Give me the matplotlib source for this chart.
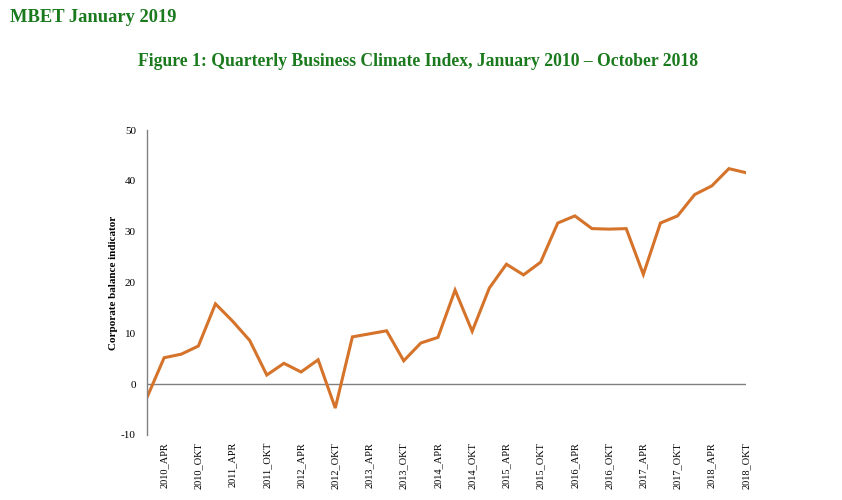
import matplotlib
matplotlib.use("Agg")
import matplotlib.pyplot as plt

# Quarterly business climate index, 2010 JAN .. 2018 OKT
years = list(range(2010, 2019))
quarters = ["JAN", "APR", "JUL", "OKT"]
periods = [f"{y}_{q}" for y in years for q in quarters]

values = [
    -2.6, 5.2, 5.9, 7.5,      # 2010
    15.8, 12.4, 8.6, 1.8,     # 2011
    4.1, 2.4, 4.8, -4.7,      # 2012
    9.3, 9.9, 10.5, 4.6,      # 2013
    8.1, 9.2, 18.5, 10.4,     # 2014
    18.9, 23.6, 21.5, 24.0,   # 2015
    31.7, 33.1, 30.6, 30.5,   # 2016
    30.6, 21.6, 31.7, 33.1,   # 2017
    37.3, 39.0, 42.4, 41.6,   # 2018
]

# only APR and OKT quarters get a label
tick_labels = [p for p in periods if p.endswith(("APR", "OKT"))]

GREEN = "#1b7a1e"
ORANGE = "#d5732a"
SERIF = ["Liberation Serif", "DejaVu Serif"]

plt.rcParams["font.family"] = SERIF
plt.rcParams["axes.unicode_minus"] = False

fig = plt.figure(figsize=(8.42, 5.0), dpi=100)
ax = fig.add_axes([0.1746, 0.13, 0.7114, 0.61])

x = list(range(len(periods)))
ax.plot(x, values, color=ORANGE, linewidth=2.2, solid_joinstyle="miter")
ax.axhline(0, color="#808080", linewidth=1.0, zorder=0)

ax.set_xlim(0, len(periods) - 1)
ax.set_ylim(-10, 50)
ax.set_yticks(range(-10, 51, 10))
ax.tick_params(axis="y", length=0, labelsize=8, pad=8)

tick_pos = [i for i, p in enumerate(periods) if p in tick_labels]
ax.set_xticks(tick_pos)
ax.set_xticklabels(tick_labels, rotation=90, fontsize=7.5, va="top")
ax.tick_params(axis="x", length=0, pad=5)

for side in ("top", "right", "bottom"):
    ax.spines[side].set_visible(False)
ax.spines["left"].set_color("#808080")
ax.spines["left"].set_linewidth(1.0)

ax.set_ylabel("Corporate balance indicator", fontsize=8, fontweight="bold",
              labelpad=2)

fig.text(0.012, 0.965, "MBET January 2019", color=GREEN, fontsize=13.3,
         fontweight="bold", va="center", ha="left")
fig.text(0.497, 0.878,
         "Figure 1: Quarterly Business Climate Index, January 2010 \u2013 October 2018",
         color=GREEN, fontsize=12.7, fontweight="bold", va="center", ha="center")

fig.savefig("out.png", dpi=100)
